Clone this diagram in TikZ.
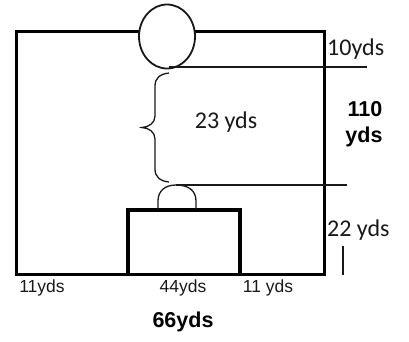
\documentclass[tikz,border=0pt]{standalone}
\usepackage{fontspec}
\setmainfont{Liberation Sans}
\newfontfamily\carl{Carlito}
\tikzset{
  heavy/.style={draw=black,line width=3pt,line cap=rect},
  medium/.style={draw=black!90,line width=1.8pt},
  thin line/.style={draw=black!90,line width=1.3pt},
  cal/.style={font=\carl\fontsize{24}{28}\selectfont,inner sep=0pt,text=black!90},
  ari/.style={font=\fontsize{17.5}{20}\selectfont,inner sep=0pt,text=black!90},
  arib/.style={font=\bfseries\fontsize{21.5}{25}\selectfont,inner sep=0pt,text=black}
}
\begin{document}
\begin{tikzpicture}[x=1pt,y=-1pt]
\useasboundingbox (0,0) rectangle (409,341);
\draw[heavy] (16,31) rectangle (324,274);
\draw[heavy,line width=3.2pt] (128,274) -- (128,210) -- (240,210) -- (240,274);
\draw[medium,fill=white] (167,36.5) ellipse [x radius=28,y radius=32];
\draw[thin line] (158,209) -- (158,201) .. controls (158,191) and (165,185) .. (176,185) .. controls (189,185) and (196,191) .. (196,201) -- (196,209);
\draw[medium] (169,67) -- (367,67);
\draw[thin line] (176,185) -- (347,185);
\draw[thin line] (169,73) .. controls (160,74) and (155,78) .. (155,86) -- (155,116) .. controls (155,123) and (149,127) .. (142,127.5) .. controls (149,128) and (155,132) .. (155,139) -- (155,169) .. controls (155,177) and (160,181) .. (169,182);
\draw[thin line] (343,246) -- (343,275);
\node[cal,anchor=west] (ten) at (327,49.5) {10yds};
\node[cal] (tt) at (226,122) {23 yds};
\node[cal,anchor=west] (tw) at (327,230) {22 yds};
\node[arib] (oneten) at (365,109) {110};
\node[arib] (ydsb) at (364,137) {yds};
\node[ari] (e1) at (42,288) {11yds};
\node[ari] (ff) at (183,288) {44yds};
\node[ari] (e2) at (268,288) {11 yds};
\node[arib] (ss) at (183,322) {66yds};
\end{tikzpicture}
\end{document}
